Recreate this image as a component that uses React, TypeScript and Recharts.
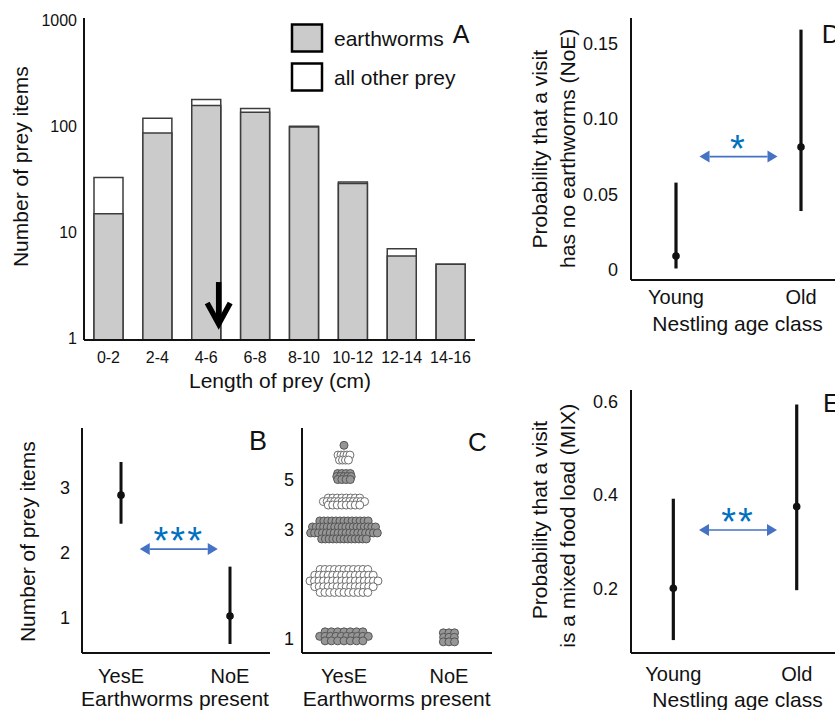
import React from "react";
import {
  BarChart,
  Bar,
  XAxis,
  YAxis,
  ScatterChart,
  Scatter,
  ErrorBar,
  ReferenceDot,
} from "recharts";

const FONT = '"Liberation Sans", Arial, Helvetica, sans-serif';
const INK = "#111111";
const WORM = "#cbcbcb";
const EDGE = "#3c3c3c";
const BLUE = "#4472c4";
const STAR = "#0070c0";

// A: prey length distribution (log counts)
const lengthClasses = ["0-2", "2-4", "4-6", "6-8", "8-10", "10-12", "12-14", "14-16"];
const earthworms = [15, 87, 158, 137, 99, 29, 6, 5];
const otherPrey = [18, 33, 22, 11, 2, 1, 1, 0];
const countTicks = [1, 10, 100, 1000];

// B: prey items per visit, estimate + 95% CI
const presenceLabels = ["YesE", "NoE"];
const preyMean = [2.89, 1.03];
const preyLow = [2.45, 0.6];
const preyHigh = [3.4, 1.79];

// C: raw visits by number of prey items
const preyItems = [1, 2, 3, 4, 5, 6, 7];
const visitsYesE = [24, 66, 62, 28, 13, 9, 1];
const visitsNoE = [9, 0, 0, 0, 0, 0, 0];
const preyItemTicks = [1, 3, 5];

// D / E: probabilities by nestling age
const ageLabels = ["Young", "Old"];
const noeMean = [0.0093, 0.0814];
const noeLow = [0.001, 0.039];
const noeHigh = [0.0578, 0.159];
const noeTicks = [0, 0.05, 0.1, 0.15];

const mixMean = [0.2, 0.375];
const mixLow = [0.089, 0.196];
const mixHigh = [0.392, 0.594];
const mixTicks = [0.2, 0.4, 0.6];

const barRows = lengthClasses.map((range, i) => ({
  range,
  earthworms: earthworms[i],
  total: earthworms[i] + otherPrey[i],
}));

const ciRows = (labels: string[], mean: number[], low: number[], high: number[]) =>
  labels.map((label, i) => ({
    x: i,
    label,
    mean: mean[i],
    err: [mean[i] - low[i], high[i] - mean[i]],
  }));

// swarm packing for panel C (pixels, one entry per prey-item level)
const swarmLayout = [
  { rows: 3, w: 54, h: 9, dy: -2 },
  { rows: 5, w: 68, h: 23, dy: 11 },
  { rows: 4, w: 69, h: 18, dy: 0 },
  { rows: 3, w: 45, h: 7, dy: 0 },
  { rows: 3, w: 18, h: 6, dy: -3 },
  { rows: 2, w: 17, h: 5, dy: -4 },
  { rows: 1, w: 0, h: 0, dy: -1 },
];
const noeLayout = { rows: 3, w: 16, h: 9, dy: -1 };

type Lay = { rows: number; w: number; h: number; dy: number };

// rows get narrower towards the top and bottom so each level reads as a rounded clump
function swarm(x: number, y: number, n: number, lay: Lay) {
  const pts: { x: number; y: number; ox: number; oy: number }[] = [];
  if (n === 0) return pts;
  const rows = Math.min(lay.rows, n);
  const ts = Array.from({ length: rows }, (_, r) => (rows === 1 ? 0 : -1 + (2 * r) / (rows - 1)));
  const widths = ts.map((t) => lay.w * (1 - 0.3 * t * t));
  const sumW = widths.reduce((a, b) => a + b, 0) || 1;
  let placed = 0;
  let carry = 0;
  ts.forEach((t, r) => {
    let k: number;
    if (r === rows - 1) k = n - placed;
    else {
      const exact = (n * widths[r]) / sumW + carry;
      k = Math.max(1, Math.round(exact));
      carry = exact - k;
    }
    placed += k;
    const wr = widths[r];
    const oy = (t * lay.h) / 2 + lay.dy;
    for (let j = 0; j < k; j++) {
      let ox = 0;
      if (k > 1) {
        ox = r % 2 === 0 ? -wr / 2 + (j * wr) / (k - 1) : -wr / 2 + ((j + 0.5) * wr) / k;
      }
      pts.push({ x, y, ox, oy });
    }
  });
  return pts;
}

const swarmRows = [
  ...preyItems.flatMap((v, i) => swarm(0, v, visitsYesE[i], swarmLayout[i])),
  ...preyItems.flatMap((v, i) => swarm(1, v, visitsNoE[i], noeLayout)),
];

const tickStyle = (size: number) => ({ fontSize: size, fill: INK, fontFamily: FONT });
const axisLine = { stroke: INK, strokeWidth: 2 };

function MeanDot(props: any) {
  return <circle cx={props.cx} cy={props.cy} r={3.8} fill={INK} />;
}

function SwarmDot(props: any) {
  const p = props.payload;
  const odd = p.y % 2 === 1;
  return (
    <circle
      cx={props.cx + p.ox}
      cy={props.cy + p.oy}
      r={4}
      fill={odd ? "#969696" : "#ffffff"}
      stroke={odd ? "#555555" : "#6e6e6e"}
      strokeWidth={1}
    />
  );
}

function SigArrow({ cx, cy, stars }: { cx: number; cy: number; stars: string }) {
  const half = 39;
  const head = 10;
  return (
    <g>
      <line x1={cx - half + head} y1={cy} x2={cx + half - head} y2={cy} stroke={BLUE} strokeWidth={1.6} />
      <polygon points={`${cx - half},${cy} ${cx - half + head},${cy - 6} ${cx - half + head},${cy + 6}`} fill={BLUE} />
      <polygon points={`${cx + half},${cy} ${cx + half - head},${cy - 6} ${cx + half - head},${cy + 6}`} fill={BLUE} />
      <text x={cx} y={cy + 5} textAnchor="middle" fontSize={38} fill={STAR} letterSpacing={2} fontFamily={FONT}>
        {stars}
      </text>
    </g>
  );
}

function DownArrow(props: any) {
  const x = props.cx + 12.5;
  const y = props.cy;
  return (
    <g stroke="#000" strokeWidth={5.5} fill="none">
      <line x1={x} y1={y - 46} x2={x} y2={y - 4} />
      <polyline points={`${x - 11.5},${y - 25} ${x},${y - 4} ${x + 11.5},${y - 25}`} strokeLinejoin="miter" />
    </g>
  );
}

function PanelA() {
  return (
    <div style={{ position: "absolute", left: 0, top: 0 }}>
      <BarChart width={480} height={380} data={barRows} margin={{ top: 18, right: 5, bottom: 10, left: 0 }}>
        <XAxis
          xAxisId="front"
          dataKey="range"
          height={30}
          interval={0}
          tickLine={false}
          tickSize={0}
          tickMargin={12}
          axisLine={axisLine}
          tick={tickStyle(16)}
        />
        <XAxis xAxisId="back" dataKey="range" hide height={0} />
        <YAxis
          type="number"
          scale="log"
          domain={[0.9637, 1063]}
          allowDataOverflow
          ticks={countTicks}
          width={84}
          tickLine={false}
          tickSize={0}
          tickMargin={7}
          axisLine={axisLine}
          tick={tickStyle(16)}
        />
        <Bar xAxisId="back" dataKey="total" name="all other prey" fill="#ffffff" stroke={EDGE} strokeWidth={1.5} barSize={29} isAnimationActive={false} />
        <Bar xAxisId="front" dataKey="earthworms" name="earthworms" fill={WORM} stroke={EDGE} strokeWidth={1.5} barSize={29} isAnimationActive={false} />
        <ReferenceDot xAxisId="front" x="4-6" y={1.25} shape={DownArrow} />
      </BarChart>
    </div>
  );
}

function PanelB() {
  const rows = ciRows(presenceLabels, preyMean, preyLow, preyHigh);
  return (
    <div style={{ position: "absolute", left: 0, top: 380 }}>
      <ScatterChart width={280} height={330} margin={{ top: 48, right: 10, bottom: 27, left: 0 }}>
        <XAxis
          type="number"
          dataKey="x"
          domain={[-0.358, 1.367]}
          allowDataOverflow
          ticks={[0, 1]}
          tickFormatter={(v: number) => presenceLabels[v]}
          height={30}
          tickLine={false}
          tickSize={0}
          tickMargin={16}
          axisLine={axisLine}
          tick={tickStyle(20)}
        />
        <YAxis
          type="number"
          dataKey="mean"
          domain={[0.4615, 3.923]}
          allowDataOverflow
          ticks={[1, 2, 3]}
          width={82}
          tickLine={false}
          tickSize={0}
          tickMargin={12}
          axisLine={axisLine}
          tick={tickStyle(18)}
        />
        <Scatter data={rows} shape={MeanDot} isAnimationActive={false}>
          <ErrorBar dataKey="err" direction="y" width={0} stroke={INK} strokeWidth={3} isAnimationActive={false} />
        </Scatter>
        <ReferenceDot x={0.53} y={2.06} shape={(p: any) => <SigArrow cx={p.cx} cy={p.cy} stars="***" />} />
      </ScatterChart>
    </div>
  );
}

function PanelC() {
  return (
    <div style={{ position: "absolute", left: 280, top: 380 }}>
      <ScatterChart width={220} height={330} margin={{ top: 48, right: 8, bottom: 27, left: 0 }}>
        <XAxis
          type="number"
          dataKey="x"
          domain={[-0.4, 1.41]}
          allowDataOverflow
          ticks={[0, 1]}
          tickFormatter={(v: number) => presenceLabels[v]}
          height={30}
          tickLine={false}
          tickSize={0}
          tickMargin={16}
          axisLine={axisLine}
          tick={tickStyle(20)}
        />
        <YAxis
          type="number"
          dataKey="y"
          scale="log"
          domain={[0.862, 8.43]}
          allowDataOverflow
          ticks={preyItemTicks}
          width={22}
          tickLine={false}
          tickSize={0}
          tickMargin={8}
          axisLine={axisLine}
          tick={tickStyle(18)}
        />
        <Scatter data={swarmRows} shape={SwarmDot} isAnimationActive={false} />
      </ScatterChart>
    </div>
  );
}

function AgePanel({
  top,
  height,
  mean,
  low,
  high,
  yDomain,
  xDomain,
  ticks,
  fmt,
  sig,
  tickMargin,
  marginTop,
  marginBottom,
}: {
  top: number;
  height: number;
  mean: number[];
  low: number[];
  high: number[];
  yDomain: [number, number];
  xDomain: [number, number];
  ticks: number[];
  fmt: (v: number) => string;
  sig: { x: number; y: number; stars: string };
  tickMargin: number;
  marginTop: number;
  marginBottom: number;
}) {
  const rows = ciRows(ageLabels, mean, low, high);
  return (
    <div style={{ position: "absolute", left: 500, top }}>
      <ScatterChart width={400} height={height} margin={{ top: marginTop, right: 30, bottom: marginBottom, left: 0 }}>
        <XAxis
          type="number"
          dataKey="x"
          domain={xDomain}
          allowDataOverflow
          ticks={[0, 1]}
          tickFormatter={(v: number) => ageLabels[v]}
          height={30}
          tickLine={false}
          tickSize={0}
          tickMargin={tickMargin}
          axisLine={axisLine}
          tick={tickStyle(20)}
        />
        <YAxis
          type="number"
          dataKey="mean"
          domain={yDomain}
          allowDataOverflow
          ticks={ticks}
          tickFormatter={fmt}
          width={131}
          tickLine={false}
          tickSize={0}
          tickMargin={13}
          axisLine={axisLine}
          tick={tickStyle(18)}
        />
        <Scatter data={rows} shape={MeanDot} isAnimationActive={false}>
          <ErrorBar dataKey="err" direction="y" width={0} stroke={INK} strokeWidth={3.2} isAnimationActive={false} />
        </Scatter>
        <ReferenceDot x={sig.x} y={sig.y} shape={(p: any) => <SigArrow cx={p.cx} cy={p.cy} stars={sig.stars} />} />
      </ScatterChart>
    </div>
  );
}

function Titles() {
  const t = { fontFamily: FONT, fill: INK, fontSize: 21 } as const;
  const rot = (x: number, y: number, s: string) => (
    <text {...t} x={x} y={y} textAnchor="middle" transform={`rotate(-90 ${x} ${y})`}>
      {s}
    </text>
  );
  return (
    <svg width={835} height={710} style={{ position: "absolute", left: 0, top: 0, pointerEvents: "none" }}>
      {/* A */}
      {rot(28.3, 166.7, "Number of prey items")}
      <text {...t} x={280} y={388} textAnchor="middle">Length of prey (cm)</text>
      <text {...t} x={452.7} y={42.7} fontSize={25}>A</text>
      <rect x={292} y={24.5} width={30} height={27} fill={WORM} stroke="#000" strokeWidth={2.5} />
      <rect x={292} y={63.5} width={30} height={27} fill="#fff" stroke="#000" strokeWidth={2.5} />
      <text {...t} x={334} y={46}>earthworms</text>
      <text {...t} x={334} y={85}>all other prey</text>
      {/* B */}
      {rot(35, 541.7, "Number of prey items")}
      <text {...t} x={175} y={706} textAnchor="middle">Earthworms present</text>
      <text {...t} x={249} y={450} fontSize={27}>B</text>
      {/* C */}
      <text {...t} x={396.7} y={706} textAnchor="middle">Earthworms present</text>
      <text {...t} x={468} y={451} fontSize={26}>C</text>
      {/* D */}
      {rot(546.7, 149.2, "Probability that a visit")}
      {rot(575, 148.3, "has no earthworms (NoE)")}
      <text {...t} x={737.5} y={331} textAnchor="middle">Nestling age class</text>
      <text {...t} x={821.7} y={43} fontSize={26}>D</text>
      {/* E */}
      {rot(546.7, 520, "Probability that a visit")}
      {rot(575, 525.8, "is a mixed food load (MIX)")}
      <text {...t} x={737.5} y={706.5} textAnchor="middle">Nestling age class</text>
      <text {...t} x={823} y={412} fontSize={26}>E</text>
    </svg>
  );
}

export default function App() {
  return (
    <div
      style={{
        position: "absolute",
        left: 0,
        top: 0,
        width: 835,
        height: 710,
        overflow: "hidden",
        background: "#fff",
        fontFamily: FONT,
      }}
    >
      <PanelA />
      <PanelB />
      <PanelC />
      <AgePanel
        top={0}
        height={350}
        mean={noeMean}
        low={noeLow}
        high={noeHigh}
        yDomain={[-0.00662, 0.1667]}
        xDomain={[-0.36, 1.552]}
        ticks={noeTicks}
        fmt={(v) => (v === 0 ? "0" : v.toFixed(2))}
        sig={{ x: 0.5, y: 0.075, stars: "*" }}
        tickMargin={10}
        marginTop={18}
        marginBottom={40}
      />
      <AgePanel
        top={370}
        height={340}
        mean={mixMean}
        low={mixLow}
        high={mixHigh}
        yDomain={[0.0613, 0.6251]}
        xDomain={[-0.343, 1.594]}
        ticks={mixTicks}
        fmt={(v) => v.toFixed(1)}
        sig={{ x: 0.524, y: 0.325, stars: "**" }}
        tickMargin={14}
        marginTop={20}
        marginBottom={27}
      />
      <Titles />
    </div>
  );
}
